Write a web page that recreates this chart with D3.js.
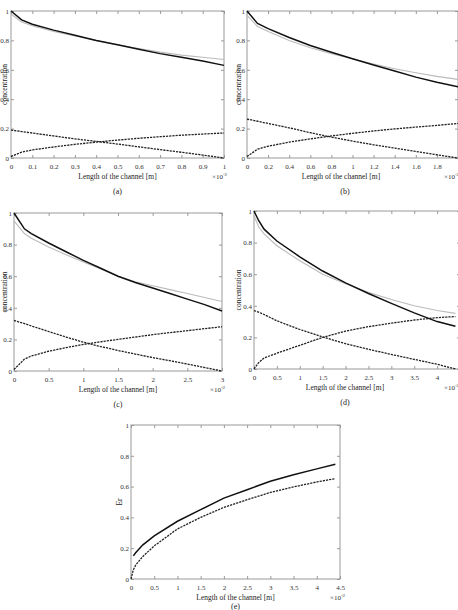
<!DOCTYPE html>
<html>
<head>
<meta charset="utf-8">
<script src="https://cdn.jsdelivr.net/npm/d3@7/dist/d3.min.js"></script>
<style>
  body { margin: 0; background: #fff; }
  svg { display: block; font-family: "Liberation Serif", "DejaVu Serif", serif; }
  .tick-label { font-size: 7px; fill: #333; font-family: "Liberation Serif", "DejaVu Serif", serif; }
  .axis-title { font-size: 7.5px; fill: #222; }
</style>
</head>
<body>
<svg width="458" height="610"></svg>
<script>
// panel (a)
var aX = [0, 0.05, 0.1, 0.2, 0.3, 0.4, 0.5, 0.6, 0.7, 0.8, 0.9, 1.0];
var aBlack = [1.0, 0.94, 0.91, 0.87, 0.835, 0.80, 0.77, 0.74, 0.71, 0.685, 0.66, 0.63];
var aGray = [0.98, 0.925, 0.90, 0.86, 0.83, 0.80, 0.77, 0.745, 0.72, 0.70, 0.685, 0.67];
var aDown = [0.19, 0.18, 0.17, 0.15, 0.13, 0.113, 0.095, 0.076, 0.057, 0.039, 0.02, 0.0];
var aUp = [0.01, 0.04, 0.055, 0.075, 0.093, 0.108, 0.122, 0.134, 0.145, 0.155, 0.163, 0.17];
var aTicks = [0, 0.1, 0.2, 0.3, 0.4, 0.5, 0.6, 0.7, 0.8, 0.9, 1];

// panel (b)
var bX = [0, 0.1, 0.2, 0.4, 0.6, 0.8, 1.0, 1.2, 1.4, 1.6, 1.8, 2.0];
var bBlack = [1.0, 0.915, 0.88, 0.82, 0.765, 0.72, 0.675, 0.633, 0.592, 0.55, 0.515, 0.485];
var bGray = [0.97, 0.895, 0.86, 0.80, 0.75, 0.71, 0.675, 0.64, 0.607, 0.58, 0.555, 0.535];
var bDown = [0.265, 0.25, 0.235, 0.205, 0.172, 0.142, 0.115, 0.09, 0.067, 0.045, 0.022, 0.0];
var bUp = [0.01, 0.06, 0.08, 0.108, 0.13, 0.15, 0.168, 0.184, 0.198, 0.21, 0.222, 0.235];
var bTicks = [0, 0.2, 0.4, 0.6, 0.8, 1, 1.2, 1.4, 1.6, 1.8];

// panel (c)
var cX = [0, 0.15, 0.25, 0.5, 0.75, 1.0, 1.25, 1.5, 1.75, 2.0, 2.25, 2.5, 2.75, 3.0];
var cBlack = [1.0, 0.90, 0.87, 0.81, 0.755, 0.70, 0.65, 0.60, 0.56, 0.525, 0.49, 0.455, 0.42, 0.38];
var cGray = [0.95, 0.87, 0.84, 0.785, 0.735, 0.69, 0.645, 0.60, 0.565, 0.54, 0.515, 0.49, 0.465, 0.44];
var cDown = [0.32, 0.30, 0.285, 0.25, 0.215, 0.182, 0.155, 0.13, 0.107, 0.085, 0.065, 0.044, 0.022, 0.0];
var cUp = [0.01, 0.075, 0.095, 0.125, 0.148, 0.168, 0.185, 0.2, 0.215, 0.23, 0.243, 0.255, 0.268, 0.28];
var cTicks = [0, 0.5, 1, 1.5, 2, 2.5, 3];

// panel (d)
var dX = [0, 0.1, 0.22, 0.5, 1.0, 1.5, 2.0, 2.5, 3.0, 3.5, 4.0, 4.4];
var dBlack = [1.0, 0.94, 0.885, 0.81, 0.71, 0.62, 0.545, 0.478, 0.415, 0.355, 0.30, 0.27];
var dGray = [0.97, 0.90, 0.855, 0.78, 0.685, 0.60, 0.54, 0.485, 0.44, 0.40, 0.37, 0.352];
var dDown = [0.37, 0.36, 0.345, 0.305, 0.25, 0.203, 0.16, 0.125, 0.092, 0.061, 0.03, 0.0];
var dUp = [0.0, 0.04, 0.07, 0.1, 0.15, 0.2, 0.24, 0.268, 0.29, 0.31, 0.325, 0.332];
var dTicks = [0, 0.5, 1, 1.5, 2, 2.5, 3, 3.5, 4];

// panel (e)
var eX = [0, 0.05, 0.1, 0.25, 0.5, 1.0, 1.5, 2.0, 2.5, 3.0, 3.5, 4.0, 4.4];
var eSolid = [null, 0.15, 0.17, 0.22, 0.28, 0.375, 0.45, 0.525, 0.58, 0.635, 0.677, 0.715, 0.745];
var eDash = [0.0, 0.06, 0.09, 0.145, 0.215, 0.325, 0.40, 0.465, 0.515, 0.562, 0.598, 0.63, 0.652];
var eTicks = [0, 0.5, 1, 1.5, 2, 2.5, 3, 3.5, 4, 4.5];

var yTicks = [0, 0.2, 0.4, 0.6, 0.8, 1];

var svg = d3.select("svg");

function fmt(v) { return d3.format("~g")(v); }

function panel(p) {
  var x = d3.scaleLinear().domain(p.xdom).range([p.left, p.right]),
      y = d3.scaleLinear().domain([0, 1]).range([p.bottom, p.top]);
  var g = svg.append("g");

  // frame box
  g.append("rect")
    .attr("x", p.left).attr("y", p.top)
    .attr("width", p.right - p.left).attr("height", p.bottom - p.top)
    .attr("fill", "none").attr("stroke", "#999").attr("stroke-width", 1);

  // inward ticks on all four sides, like the matlab box
  g.append("g").attr("transform", "translate(0," + p.bottom + ")")
    .call(d3.axisBottom(x).tickValues(p.xticks).tickSizeInner(-3).tickSizeOuter(0).tickPadding(6).tickFormat(fmt));
  g.append("g").attr("transform", "translate(0," + p.top + ")")
    .call(d3.axisTop(x).tickValues(p.xticks).tickSizeInner(-3).tickSizeOuter(0).tickFormat(""));
  g.append("g").attr("transform", "translate(" + p.left + ",0)")
    .call(d3.axisLeft(y).tickValues(yTicks).tickSizeInner(-3).tickSizeOuter(0).tickPadding(2).tickFormat(fmt));
  g.append("g").attr("transform", "translate(" + p.right + ",0)")
    .call(d3.axisRight(y).tickValues(yTicks).tickSizeInner(-3).tickSizeOuter(0).tickFormat(""));

  g.selectAll(".domain").remove();
  g.selectAll("g").attr("font-family", null).attr("font-size", null);
  g.selectAll(".tick line").attr("stroke", "#999");
  g.selectAll(".tick text").attr("class", "tick-label").attr("fill", null);

  var line = d3.line()
    .defined(function(d) { return d[1] != null; })
    .x(function(d) { return x(d[0]); })
    .y(function(d) { return y(d[1]); });

  p.series.forEach(function(s) {
    g.append("path")
      .attr("d", line(p.xs.map(function(v, i) { return [v, s.values[i]]; })))
      .attr("fill", "none")
      .attr("stroke", s.color)
      .attr("stroke-width", s.width)
      .attr("stroke-dasharray", s.dash || null);
  });

  var cx = (p.left + p.right) / 2;
  g.append("text").attr("class", "axis-title")
    .attr("x", p.titleX || cx).attr("y", p.bottom + 21)
    .attr("text-anchor", "middle")
    .text("Length of the channel [m]");

  var ex = g.append("text").attr("class", "tick-label")
    .attr("x", p.expX).attr("y", p.bottom + 21);
  ex.append("tspan").text("\u00d710");
  ex.append("tspan").attr("dy", -3).attr("font-size", "5px").text("-2");

  g.append("text").attr("class", "axis-title")
    .attr("transform", "translate(" + p.ylabX + "," + ((p.top + p.bottom) / 2) + ") rotate(-90)")
    .attr("text-anchor", "middle")
    .attr("fill", "#555")
    .text(p.ylabel);

  g.append("text")
    .attr("x", p.capX || cx).attr("y", p.bottom + (p.capDy || 36))
    .attr("text-anchor", "middle")
    .attr("font-size", "8px").attr("fill", "#222")
    .text(p.caption);
}

function four(bl, gr, dn, up) {
  return [
    {values: gr, color: "#bbb", width: 1.1},
    {values: bl, color: "#111", width: 1.5},
    {values: dn, color: "#222", width: 1.3, dash: "2.2,1"},
    {values: up, color: "#222", width: 1.3, dash: "2.2,1"}
  ];
}

panel({left: 11, right: 224, top: 11, bottom: 158, xdom: [0, 1], xticks: aTicks,
  xs: aX, series: four(aBlack, aGray, aDown, aUp),
  expX: 212, ylabX: 7, ylabel: "concentration", caption: "(a)"});

panel({left: 247, right: 458, top: 11, bottom: 158, xdom: [0, 2], xticks: bTicks,
  xs: bX, series: four(bBlack, bGray, bDown, bUp),
  expX: 444, ylabX: 241, ylabel: "concentration", caption: "(b)", capX: 345, titleX: 341});

panel({left: 14, right: 222, top: 213, bottom: 371, xdom: [0, 3], xticks: cTicks,
  xs: cX, series: four(cBlack, cGray, cDown, cUp),
  expX: 210, ylabX: 7, ylabel: "concentration", caption: "(c)"});

panel({left: 254, right: 460, top: 211, bottom: 369, xdom: [0, 4.5], xticks: dTicks,
  xs: dX, series: four(dBlack, dGray, dDown, dUp),
  expX: 444, ylabX: 241, ylabel: "concentration", caption: "(d)", capX: 345, titleX: 345});

panel({left: 131, right: 340, top: 425, bottom: 579, xdom: [0, 4.5], xticks: eTicks,
  xs: eX, series: [
    {values: eSolid, color: "#111", width: 1.5},
    {values: eDash, color: "#222", width: 1.3, dash: "2.2,1"}
  ],
  expX: 330, ylabX: 122, ylabel: "Er", caption: "(e)", capDy: 30});
</script>
</body>
</html>
